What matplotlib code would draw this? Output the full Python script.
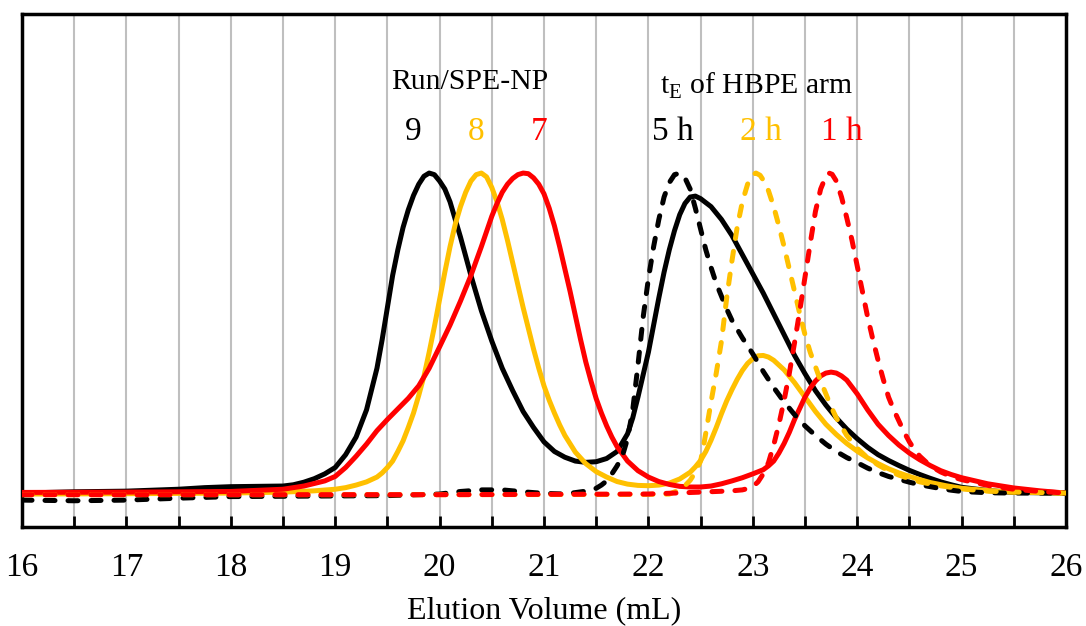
import numpy as np
import matplotlib
matplotlib.use("Agg")
import matplotlib.pyplot as plt

plt.rcParams["font.family"] = ["Liberation Serif", "DejaVu Serif"]
plt.rcParams["mathtext.fontset"] = "custom"
plt.rcParams["mathtext.rm"] = "Liberation Serif"

# SEC traces, normalised intensity (peak = 100) vs elution volume (mL)
x_run9 = [16.0, 16.5, 17.0, 17.5, 17.75, 18.0, 18.25, 18.5, 18.6, 18.7, 18.8, 18.9, 19.0, 19.1,
          19.2, 19.3, 19.4, 19.45, 19.5, 19.55, 19.6, 19.65, 19.7, 19.75, 19.8, 19.85, 19.9,
          19.95, 20.0, 20.05, 20.1, 20.2, 20.3, 20.4, 20.5, 20.6, 20.7, 20.8, 20.9, 21.0, 21.1,
          21.2, 21.3, 21.4, 21.5, 21.6, 21.7, 21.8, 21.85, 21.9, 21.95, 22.0, 22.05, 22.1,
          22.15, 22.2, 22.25, 22.3, 22.35, 22.4, 22.45, 22.5, 22.6, 22.7, 22.8, 22.9, 23.0,
          23.1, 23.2, 23.3, 23.4, 23.5, 23.6, 23.7, 23.8, 23.9, 24.0, 24.1, 24.2, 24.3, 24.4,
          24.5, 24.6, 24.7, 24.8, 24.9, 25.0, 25.25, 25.5, 26.0]
y_run9 = [0, 0.4, 0.6, 1.2, 1.7, 2.0, 2.1, 2.2, 2.6, 3.4, 4.5, 6.0, 8.0, 12,
          17.5, 26, 39, 48, 58, 68, 76, 83, 88.5, 93, 96.5, 99, 100,
          99.5, 97.5, 95, 91, 80, 68, 57, 47.5, 39, 32, 25.5, 20.5, 16, 13,
          11.2, 10, 9.6, 9.8, 10.8, 13, 18.5, 23.5, 30, 37, 44, 52.5, 61,
          69, 76, 82, 87, 90.5, 92.5, 92.8, 92, 89.5, 85.5, 80.5, 74.5, 68.5,
          62.5, 56, 49.5, 43, 37.3, 32, 27.5, 23.5, 20, 17, 14.3, 12, 10.2, 8.6,
          7.1, 5.8, 4.6, 3.5, 2.6, 1.8, 0.8, 0.2, 0]

x_run8 = [16.0, 17.0, 18.0, 18.5, 18.8, 19.0, 19.1, 19.2, 19.3, 19.4, 19.45, 19.5, 19.55, 19.6,
          19.65, 19.7, 19.75, 19.8, 19.85, 19.9, 19.95, 20.0, 20.05, 20.1, 20.15, 20.2, 20.25,
          20.3, 20.35, 20.4, 20.45, 20.5, 20.55, 20.6, 20.65, 20.7, 20.75, 20.8, 20.85, 20.9,
          20.95, 21.0, 21.05, 21.1, 21.15, 21.2, 21.3, 21.4, 21.5, 21.6, 21.7, 21.8, 21.9, 22.0,
          22.1, 22.2, 22.3, 22.4, 22.45, 22.5, 22.55, 22.6, 22.65, 22.7, 22.75, 22.8, 22.85,
          22.9, 22.95, 23.0, 23.05, 23.1, 23.15, 23.2, 23.3, 23.4, 23.5, 23.6, 23.7, 23.8, 23.9,
          24.0, 24.1, 24.2, 24.3, 24.4, 24.5, 24.6, 24.7, 24.85, 25.0, 25.25, 25.5, 26.0]
y_run8 = [-0.3, -0.2, 0, 0.3, 0.7, 1.2, 1.7, 2.5, 3.5, 5, 6.3, 8, 10, 13,
          16.3, 20.5, 25, 30.5, 36.5, 44, 52, 60.5, 69, 77, 84, 89.5, 94,
          97.5, 99.5, 100, 98.8, 95.5, 91, 85.5, 79, 72, 65, 58, 51.5, 45,
          39, 33.5, 29, 25, 21.3, 18, 12.8, 9.2, 6.7, 5, 3.6, 2.8, 2.4, 2.3,
          2.5, 3.1, 4.4, 6.5, 8.2, 10.2, 13, 16.5, 20.5, 24.8, 28.8, 32.3, 35.5,
          38.3, 40.5, 42, 42.9, 43, 42.5, 41.5, 38.5, 34.5, 30, 25.5, 21.5, 18.3, 15.5,
          13.1, 11, 9.2, 7.6, 6.3, 5.2, 4.2, 3.3, 2.3, 1.5, 0.8, 0.3, 0]

x_run7 = [16.0, 17.0, 18.0, 18.5, 18.7, 18.9, 19.0, 19.1, 19.2, 19.3, 19.4, 19.5, 19.6, 19.7,
          19.8, 19.9, 20.0, 20.1, 20.2, 20.3, 20.4, 20.5, 20.55, 20.6, 20.65, 20.7, 20.75, 20.8,
          20.85, 20.9, 20.95, 21.0, 21.05, 21.1, 21.15, 21.2, 21.25, 21.3, 21.35, 21.4, 21.45,
          21.5, 21.55, 21.6, 21.65, 21.7, 21.8, 21.9, 22.0, 22.1, 22.2, 22.3, 22.4, 22.5, 22.6,
          22.7, 22.8, 22.9, 23.0, 23.1, 23.15, 23.2, 23.25, 23.3, 23.35, 23.4, 23.45, 23.5,
          23.55, 23.6, 23.65, 23.7, 23.75, 23.8, 23.85, 23.9, 24.0, 24.1, 24.2, 24.3, 24.4,
          24.5, 24.6, 24.7, 24.8, 24.9, 25.0, 25.25, 25.5, 25.75, 26.0]
y_run7 = [0.2, 0.3, 0.5, 1.2, 2.2, 3.8, 5.2, 8, 11.5, 15.3, 19.5, 23, 26.3, 29.6,
          33.5, 39, 45.7, 52.5, 60, 68, 77, 86.5, 90.5, 94, 96.5, 98.3, 99.5, 100,
          99.8, 98.5, 96.5, 93.5, 89, 83.5, 77, 70, 63, 55.5, 48, 41, 35,
          29.5, 25, 21, 17.5, 14.5, 10, 7, 5, 3.6, 2.7, 2.1, 1.9, 1.9, 2.2,
          2.9, 3.8, 4.8, 6, 7.3, 8.5, 10, 12.5, 15.5, 19, 23, 26.5, 30,
          32.8, 35, 36.6, 37.5, 37.8, 37.5, 36.6, 35.3, 31, 26, 21.5, 18, 15,
          12.5, 10.4, 8.6, 7, 5.8, 4.8, 2.9, 1.6, 0.7, 0]

x_arm5 = [16.0, 16.5, 17.0, 17.5, 18.0, 18.5, 19.0, 19.5, 20.0, 20.2, 20.4, 20.6, 20.8, 21.0,
          21.2, 21.4, 21.5, 21.55, 21.6, 21.65, 21.7, 21.75, 21.8, 21.85, 21.9, 21.95, 22.0,
          22.05, 22.1, 22.15, 22.2, 22.25, 22.3, 22.35, 22.4, 22.45, 22.5, 22.55, 22.6, 22.65,
          22.7, 22.75, 22.8, 22.9, 23.0, 23.1, 23.2, 23.3, 23.4, 23.5, 23.6, 23.7, 23.8, 23.9,
          24.0, 24.1, 24.2, 24.3, 24.4, 24.5, 24.6, 24.7, 24.8, 24.9, 25.0, 25.25, 25.5, 26.0]
y_arm5 = [-2.2, -2.4, -2.2, -1.6, -1.1, -1.0, -0.9, -0.8, -0.3, 0.5, 1.0, 1.0, 0.4, -0.1,
          -0.3, 0.6, 1.5, 2.5, 3.8, 6, 8.5, 11.5, 17, 26, 40, 55, 67,
          77, 85.5, 92.5, 97, 99.5, 100, 98.5, 95, 89, 82.5, 76, 70.5, 65.5,
          61.5, 57.5, 54, 48.5, 43.5, 38, 33, 28.5, 24.5, 21, 18, 15.3, 13, 11.1,
          9.5, 7.8, 6.4, 5.2, 4.3, 3.4, 2.6, 2.0, 1.4, 0.9, 0.5, 0.1, 0, 0]

x_arm2 = [16.0, 18.0, 20.0, 22.0, 22.2, 22.3, 22.35, 22.4, 22.45, 22.5, 22.53, 22.56, 22.6,
          22.65, 22.7, 22.75, 22.8, 22.85, 22.9, 22.95, 23.0, 23.03, 23.07, 23.1, 23.15, 23.2,
          23.25, 23.3, 23.35, 23.4, 23.45, 23.5, 23.55, 23.6, 23.65, 23.7, 23.75, 23.8, 23.9,
          24.0, 24.1, 24.2, 24.3, 24.4, 24.5, 24.6, 24.75, 25.0, 25.25, 25.5, 26.0]
y_arm2 = [-0.5, -0.5, -0.5, -0.4, -0.3, 1, 2.3, 4, 6.5, 10, 15, 20.7, 28.5,
          37.5, 47.5, 61, 72.5, 83, 91, 96.5, 99.5, 100, 99.3, 97.8, 94.5, 89.5,
          83.5, 77, 70, 63, 56, 49.5, 44, 39.5, 35, 31, 27, 23.5, 18,
          14, 11, 8.8, 7, 5.6, 4.5, 3.5, 2.5, 1.3, 0.6, 0.3, 0]

x_arm1 = [16.0, 18.0, 20.0, 22.0, 22.5, 22.8, 22.9, 22.95, 23.0, 23.05, 23.1, 23.15, 23.2, 23.25,
          23.3, 23.35, 23.4, 23.45, 23.5, 23.55, 23.6, 23.65, 23.7, 23.73, 23.76, 23.8, 23.85,
          23.9, 23.95, 24.0, 24.05, 24.1, 24.15, 24.2, 24.25, 24.3, 24.35, 24.4, 24.45, 24.5,
          24.55, 24.6, 24.7, 24.8, 24.9, 25.0, 25.25, 25.5, 25.75, 26.0]
y_arm1 = [-0.5, -0.5, -0.5, -0.3, 0.3, 0.7, 1.0, 1.4, 2, 3.5, 6, 9.5, 15, 21.5,
          29, 37.5, 47, 57, 67.5, 78, 88, 95, 99, 100, 99.6, 97.5, 92.5,
          86, 79, 71, 63, 55, 48, 41.5, 35.5, 30, 26, 22.5, 19, 16,
          13.5, 11.5, 8.5, 6.6, 5.2, 4.2, 2.4, 1.2, 0.5, 0]

BLACK, GOLD, RED = "#000000", "#FFC000", "#FF0000"

fig = plt.figure(figsize=(10.86, 6.26), dpi=100)
ax = fig.add_axes([22 / 1086, 1 - 527 / 626, (1066 - 22) / 1086, (527 - 14) / 626])

# vertical grid every 0.5 mL
for gx in np.arange(16.5, 26.0, 0.5):
    ax.axvline(gx, color="#BFBFBF", lw=1.5, zorder=0)

lw = 3.6
solid = dict(lw=lw, solid_capstyle="round", solid_joinstyle="round", zorder=3)
dashed = dict(lw=lw, dashes=(2.0, 2.6), dash_capstyle="round", dash_joinstyle="round", zorder=4)
ax.plot(x_run9, y_run9, color=BLACK, **solid)
ax.plot(x_run8, y_run8, color=GOLD, **solid)
ax.plot(x_run7, y_run7, color=RED, **solid)
ax.plot(x_arm5, y_arm5, color=BLACK, **dashed)
ax.plot(x_arm2, y_arm2, color=GOLD, **dashed)
ax.plot(x_arm1, y_arm1, color=RED, **dashed)

ax.set_xlim(16, 26)
ax.set_ylim(-10.6, 149.7)
ax.set_xticks(np.arange(16, 27, 1))
ax.set_xticks(np.arange(16.5, 26, 1), minor=True)
ax.set_yticks([])
ax.tick_params(axis="x", which="both", direction="in", length=8, width=2, labelsize=24, pad=18)
for s in ax.spines.values():
    s.set_linewidth(2.5)
ax.set_xlabel("Elution Volume (mL)", fontsize=23, labelpad=10)

# series labels
ax.text(20.29, 126.2, "Run/SPE-NP", fontsize=21.4, ha="center", va="baseline")
ax.text(23.04, 124.7, r"t$_\mathregular{E}$ of HBPE arm", fontsize=21.4, ha="center", va="baseline")
for lx, lab, c in [(19.745, "9", BLACK), (20.35, "8", GOLD), (20.95, "7", RED),
                   (22.236, "5 h", BLACK), (23.079, "2 h", GOLD), (23.854, "1 h", RED)]:
    ax.text(lx, 110.3, lab, fontsize=24, color=c, ha="center", va="baseline")

fig.savefig("out.png", dpi=100)
